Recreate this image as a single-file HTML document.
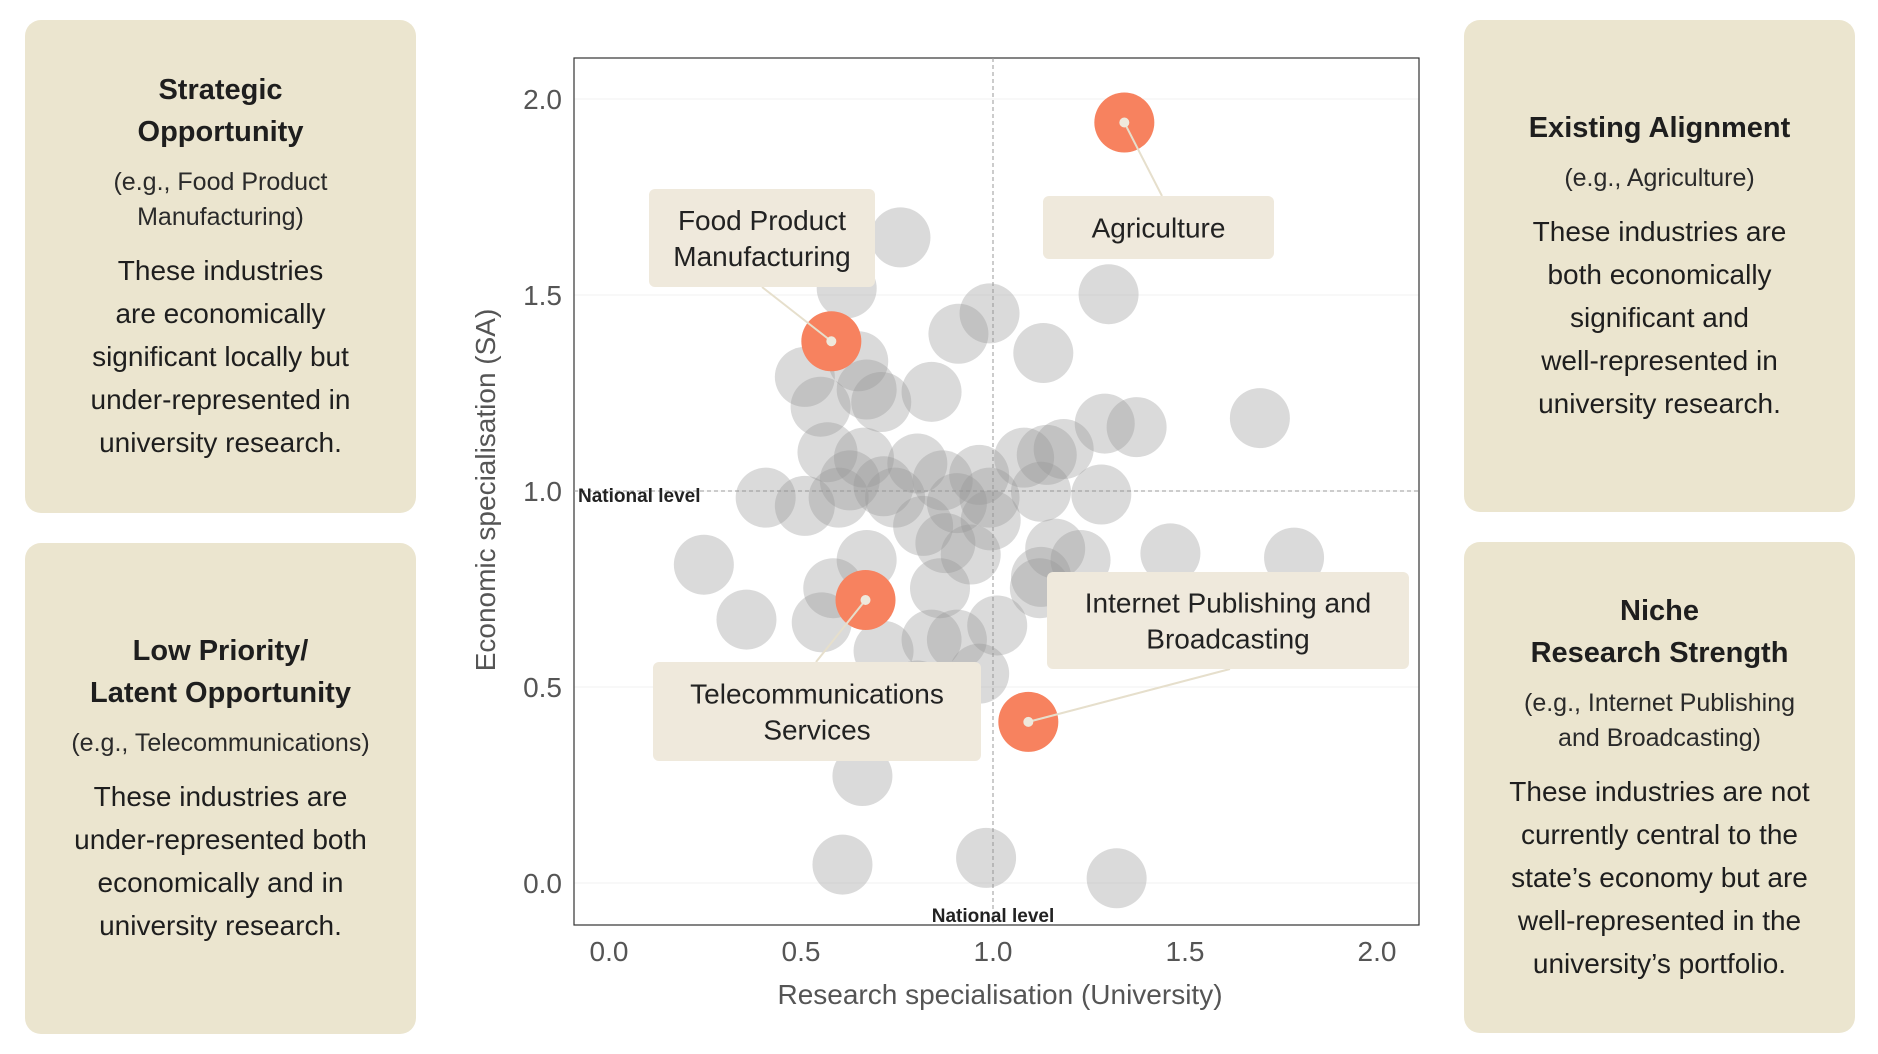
<!DOCTYPE html>
<html><head><meta charset="utf-8"><style>
body{margin:0;width:1878px;height:1054px;background:#fff;position:relative;overflow:hidden;font-family:"Liberation Sans",sans-serif;color:#1e1e1e}
.panel{position:absolute;background:#ebe5cf;border-radius:16px;display:flex;flex-direction:column;justify-content:center;align-items:center;text-align:center}
.t{font-weight:bold;font-size:29px;line-height:42px}
.e{font-size:25px;line-height:35px;margin-top:12px;color:#2a2a2a}
.b{font-size:28px;line-height:43px;margin-top:14px}
svg text{font-family:"Liberation Sans",sans-serif}
</style></head><body>
<div class="panel" style="left:25px;top:20px;width:391px;height:493px">
<div class="t">Strategic<br>Opportunity</div>
<div class="e">(e.g., Food Product<br>Manufacturing)</div>
<div class="b">These industries<br>are economically<br>significant locally but<br>under-represented in<br>university research.</div></div>
<div class="panel" style="left:25px;top:543px;width:391px;height:491px">
<div class="t">Low Priority/<br>Latent Opportunity</div>
<div class="e">(e.g., Telecommunications)</div>
<div class="b">These industries are<br>under-represented both<br>economically and in<br>university research.</div></div>
<div class="panel" style="left:1464px;top:20px;width:391px;height:492px">
<div class="t">Existing Alignment</div>
<div class="e">(e.g., Agriculture)</div>
<div class="b">These industries are<br>both economically<br>significant and<br>well-represented in<br>university research.</div></div>
<div class="panel" style="left:1464px;top:542px;width:391px;height:491px">
<div class="t">Niche<br>Research Strength</div>
<div class="e">(e.g., Internet Publishing<br>and Broadcasting)</div>
<div class="b">These industries are not<br>currently central to the<br>state’s economy but are<br>well-represented in the<br>university’s portfolio.</div></div>

<svg id="chart" width="1878" height="1054" style="position:absolute;left:0;top:0"></svg>
<script>
const xTicks=[0.0,0.5,1.0,1.5,2.0];
const yTicks=[0.0,0.5,1.0,1.5,2.0];
const greyX=[0.759,0.619,0.991,0.910,1.301,1.131,0.649,0.510,0.551,0.671,0.709,0.840,1.291,1.374,1.695,0.569,0.664,0.803,0.964,1.081,1.140,1.184,0.408,0.510,0.598,0.715,0.869,0.991,1.125,1.282,0.818,0.876,0.942,0.994,0.671,0.247,1.162,1.228,1.462,1.784,1.125,1.122,0.584,0.358,0.554,0.840,0.906,1.011,0.964,0.803,0.862,0.660,0.608,0.982,1.322,0.715,0.745,0.627,0.906];
const greyY=[1.647,1.517,1.453,1.401,1.502,1.352,1.331,1.291,1.215,1.259,1.227,1.253,1.172,1.163,1.186,1.099,1.085,1.070,1.041,1.085,1.092,1.107,0.983,0.962,0.983,1.012,1.027,0.983,0.998,0.991,0.911,0.867,0.838,0.925,0.824,0.812,0.853,0.824,0.841,0.830,0.781,0.752,0.752,0.672,0.665,0.621,0.621,0.657,0.534,0.491,0.752,0.273,0.047,0.064,0.012,0.592,0.983,1.027,0.969];
const hlNames=["Agriculture","Food Product Manufacturing","Telecommunications Services","Internet Publishing and Broadcasting"];
const hlX=[1.342,0.579,0.668,1.092];
const hlY=[1.94,1.382,0.722,0.411];
const L=574,R=1419,T=58,B=925;
const sx=v=>609+384*v, sy=v=>883-392*v;
const NS="http://www.w3.org/2000/svg", svg=document.getElementById('chart');
function mk(tag,a,p){const e=document.createElementNS(NS,tag);for(const k in a)e.setAttribute(k,a[k]);(p||svg).appendChild(e);return e;}
yTicks.forEach(v=>{const g=mk('line',{x1:L,x2:R,y1:sy(v),y2:sy(v),stroke:'#f2f2f2','stroke-width':1});


const t=mk('text',{x:562,y:sy(v)+10,'text-anchor':'end','font-size':28,fill:'#555'});t.textContent=v.toFixed(1);

});
xTicks.forEach(v=>{const t=mk('text',{x:sx(v),y:961,'text-anchor':'middle','font-size':28,fill:'#555'});t.textContent=v.toFixed(1);

});
const fr=mk('rect',{x:L,y:T,width:R-L,height:B-T,fill:'none',stroke:'#333','stroke-width':1.2});


const vl=mk('line',{x1:sx(1),x2:sx(1),y1:T,y2:B,stroke:'#999','stroke-dasharray':'4,3','stroke-width':1});


const hl=mk('line',{x1:L,x2:R,y1:sy(1),y2:sy(1),stroke:'#999','stroke-dasharray':'4,3','stroke-width':1});


greyX.forEach((x,i)=>{const c=mk('circle',{cx:sx(x),cy:sy(greyY[i]),r:30,fill:'rgba(150,150,150,0.35)'});

});
const n1=mk('text',{x:578,y:502,'font-size':19,'font-weight':'bold',fill:'#222'});n1.textContent='National level';


const n2=mk('text',{x:sx(1),y:922,'text-anchor':'middle','font-size':19,'font-weight':'bold',fill:'#222'});n2.textContent='National level';


const boxes=[[1043,196,231,63],[649,189,226,98],[653,662,328,99],[1047,572,362,97]];
const anchors=[[1162,196],[762,287],[816,662],[1230,669]];
const lines=[["Agriculture"],["Food Product","Manufacturing"],["Telecommunications","Services"],["Internet Publishing and","Broadcasting"]];
hlX.forEach((x,i)=>{const c=mk('circle',{cx:sx(x),cy:sy(hlY[i]),r:30,fill:'#f7825f'});


const ln=mk('line',{x1:sx(x),y1:sy(hlY[i]),x2:anchors[i][0],y2:anchors[i][1],stroke:'#e6dfcc','stroke-width':2});

});
boxes.forEach((b,i)=>{const r=mk('rect',{x:b[0],y:b[1],width:b[2],height:b[3],rx:6,fill:'#efe9dc'});


const ls=lines[i], cy=b[1]+b[3]/2, n=ls.length;
ls.forEach((s,j)=>{const t=mk('text',{x:b[0]+b[2]/2,y:cy+(j-(n-1)/2)*36+10,'text-anchor':'middle','font-size':28,fill:'#222'});t.textContent=s;

});
const d=mk('circle',{cx:sx(hlX[i]),cy:sy(hlY[i]),r:5,fill:'#efe9dc'});

});
const xt=mk('text',{x:1000,y:1004,'text-anchor':'middle','font-size':28,fill:'#555'});xt.textContent='Research specialisation (University)';


const yt=mk('text',{x:0,y:0,'text-anchor':'middle','font-size':28,fill:'#555',transform:'translate(495,490) rotate(-90)'});yt.textContent='Economic specialisation (SA)';


</script>
</body></html>
